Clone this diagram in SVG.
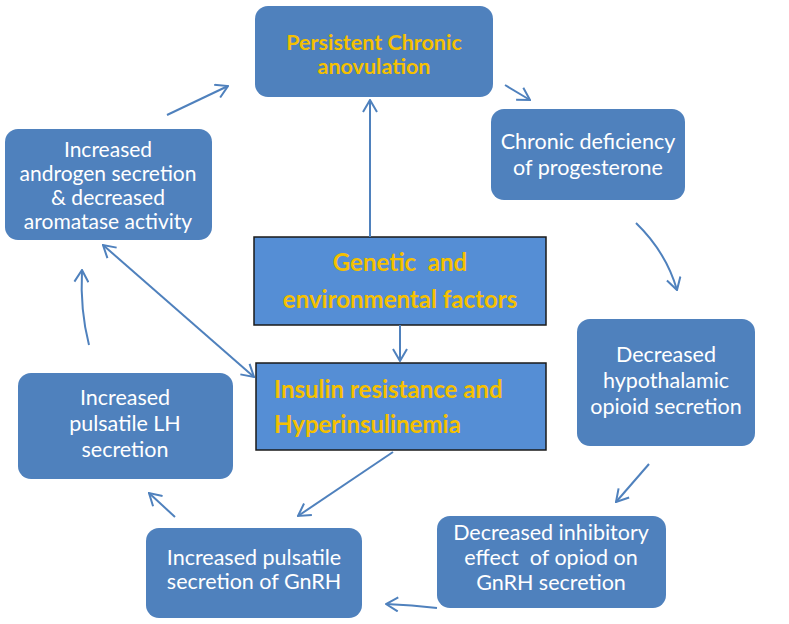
<svg xmlns="http://www.w3.org/2000/svg" width="789" height="624" viewBox="0 0 789 624">
<style>
.rb{fill:#4F81BD;}
.cb{fill:#558ED5;stroke:#1a1a1a;stroke-width:1.5;}
.wt{font-family:Lato,"Open Sans",sans-serif;font-size:21.5px;fill:#ffffff;text-anchor:middle;white-space:pre;}
.yt{font-family:Lato,"Open Sans",sans-serif;font-size:24px;font-weight:bold;fill:#F5C000;white-space:pre;}
.ar{fill:none;stroke:#4F81BD;stroke-width:2;}
</style>
<defs>
<marker id="ah" viewBox="0 0 14 16" refX="13" refY="8" markerWidth="14" markerHeight="16" markerUnits="userSpaceOnUse" orient="auto-start-reverse">
<path d="M1,1 L13,8 L1,15" fill="none" stroke="#4F81BD" stroke-width="2"/>
</marker>
</defs>
<rect width="789" height="624" fill="#ffffff"/>
<g id="n1"><rect class="rb" x="255" y="6" width="238" height="91" rx="13"/>
<text class="yt" x="374" y="50" text-anchor="middle" style="font-size:21.5px">Persistent Chronic</text>
<text class="yt" x="374" y="74" text-anchor="middle" style="font-size:21.5px">anovulation</text></g>
<g id="n2"><rect class="rb" x="5" y="129" width="207" height="111" rx="13"/>
<text class="wt" x="108" y="157" style="font-size:21px">Increased</text>
<text class="wt" x="108" y="181" style="font-size:21px">androgen secretion</text>
<text class="wt" x="108" y="205" style="font-size:21px">&amp; decreased</text>
<text class="wt" x="108" y="229" style="font-size:21px">aromatase activity</text></g>
<g id="n3"><rect class="rb" x="491" y="109" width="194" height="91" rx="13"/>
<text class="wt" x="588" y="149">Chronic deficiency</text>
<text class="wt" x="588" y="175">of progesterone</text></g>
<g id="n4"><rect class="cb" x="254" y="237" width="292" height="88"/>
<text class="yt" x="400" y="271" text-anchor="middle">Genetic  and</text>
<text class="yt" x="400" y="308" text-anchor="middle">environmental factors</text></g>
<g id="n5"><rect class="cb" x="256" y="363" width="290" height="87"/>
<text class="yt" x="274" y="398">Insulin resistance and</text>
<text class="yt" x="274" y="433">Hyperinsulinemia</text></g>
<g id="n6"><rect class="rb" x="577" y="319" width="178" height="127" rx="13"/>
<text class="wt" x="666" y="362">Decreased</text>
<text class="wt" x="666" y="388">hypothalamic</text>
<text class="wt" x="666" y="414">opioid secretion</text></g>
<g id="n7"><rect class="rb" x="437" y="516" width="229" height="92" rx="13"/>
<text class="wt" x="551" y="540">Decreased inhibitory</text>
<text class="wt" x="551" y="565">effect  of opiod on</text>
<text class="wt" x="551" y="590">GnRH secretion</text></g>
<g id="n8"><rect class="rb" x="146" y="528" width="216" height="90" rx="13"/>
<text class="wt" x="254" y="565">Increased pulsatile</text>
<text class="wt" x="254" y="589">secretion of GnRH</text></g>
<g id="n9"><rect class="rb" x="18" y="373" width="215" height="106" rx="13"/>
<text class="wt" x="125" y="405">Increased</text>
<text class="wt" x="125" y="431">pulsatile LH</text>
<text class="wt" x="125" y="457">secretion</text></g>
<g id="connectors">
<path class="ar" d="M370,237 L370,100" marker-end="url(#ah)"/>
<path class="ar" d="M400,325 L400,361" marker-end="url(#ah)"/>
<path class="ar" d="M103,245 L254,377" marker-start="url(#ah)" marker-end="url(#ah)"/>
<path class="ar" d="M167,115 L228,86" marker-end="url(#ah)"/>
<path class="ar" d="M505,85 L530,100" marker-end="url(#ah)"/>
<path class="ar" d="M636,223 Q666,252 677,290" marker-end="url(#ah)"/>
<path class="ar" d="M649,464 L616,502" marker-end="url(#ah)"/>
<path class="ar" d="M437,608 Q412,605 386,604" marker-end="url(#ah)"/>
<path class="ar" d="M393,452 L298,516" marker-end="url(#ah)"/>
<path class="ar" d="M175,517 L149,493" marker-end="url(#ah)"/>
<path class="ar" d="M89,345 Q80,310 82,270" marker-end="url(#ah)"/>
</g>
</svg>
